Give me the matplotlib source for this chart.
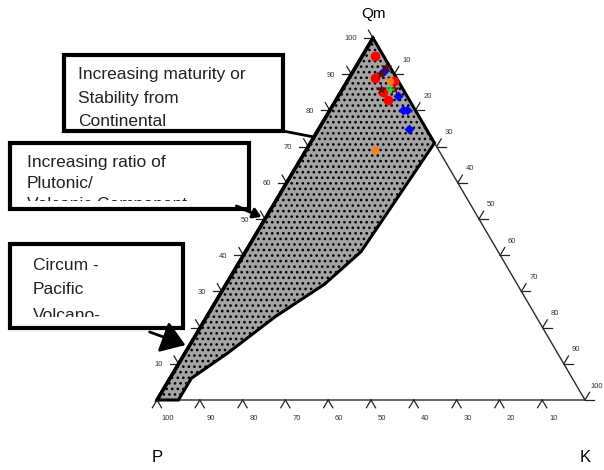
import numpy as np
import matplotlib.pyplot as plt
from matplotlib.patches import Polygon, Rectangle, FancyArrowPatch

plt.rcParams['font.family'] = ['Liberation Sans', 'DejaVu Sans']
plt.rcParams['hatch.linewidth'] = 1.1

# vertices of the diagram (pixel space)
P_XY = (157, 400)
K_XY = (585, 400)
QM_XY = (373, 38)

# point groups as (Qm, P, K) percentages
red_qm = [95, 89, 88, 85, 83]
red_p = [2, 5, 1, 5, 5]
red_k = [3, 6, 11, 10, 12]

maroon_qm = [92, 90, 86, 86]
maroon_p = [1, 3, 2, 5]
maroon_k = [7, 7, 12, 9]

blue_qm = [91, 84, 80, 80, 75]
blue_p = [2, 2, 3, 2, 4]
blue_k = [7, 14, 17, 18, 21]

green_qm = [86]
green_p = [3]
green_k = [11]

orange_qm = [88, 69]
orange_p = [2, 15]
orange_k = [10, 16]

# field outline (Qm, P, K), running from the Qm apex down the right side and back to P
field_qm = [100, 71, 41, 32, 23, 13, 6, 0, 0]
field_p = [0, 0, 32, 45, 61, 77, 89, 95, 100]
field_k = [0, 29, 27, 23, 16, 10, 5, 5, 0]

tick_vals = [10, 20, 30, 40, 50, 60, 70, 80, 90, 100]

box_lines = [
    ["Increasing maturity or", "Stability from", "Continental"],
    ["Increasing ratio of", "Plutonic/", "Volcanic Component"],
    ["Circum -", "Pacific", "Volcano-"],
]


def tern(qm, p, k):
    qm, p, k = np.asarray(qm, float), np.asarray(p, float), np.asarray(k, float)
    s = qm + p + k
    x = (P_XY[0] * p + K_XY[0] * k + QM_XY[0] * qm) / s
    y = (P_XY[1] * p + K_XY[1] * k + QM_XY[1] * qm) / s
    return x, y


def unit(dx, dy):
    n = np.hypot(dx, dy)
    return dx / n, dy / n


fig = plt.figure(figsize=(6.04, 4.70), dpi=100)
ax = fig.add_axes([0, 0, 1, 1])
ax.set_xlim(0, 604)
ax.set_ylim(470, 0)
ax.axis('off')

# shaded field
fx, fy = tern(field_qm, field_p, field_k)
field = Polygon(np.column_stack([fx, fy]), closed=True, facecolor='#a4a4a4',
                edgecolor='black', hatch='...', lw=2.2, zorder=2)
ax.add_patch(field)

# triangle outline
ax.plot([P_XY[0], QM_XY[0]], [P_XY[1], QM_XY[1]], color='black', lw=2.6, zorder=3,
        solid_capstyle='round')
ax.plot([QM_XY[0], K_XY[0], P_XY[0]], [QM_XY[1], K_XY[1], P_XY[1]],
        color='#2a2a2a', lw=1.0, zorder=1)

# tick marks and labels
L = 9
d_qp = unit(P_XY[0] - QM_XY[0], P_XY[1] - QM_XY[1])
d_qk = unit(K_XY[0] - QM_XY[0], K_XY[1] - QM_XY[1])
d_pq = (-d_qp[0], -d_qp[1])
d_kq = (-d_qk[0], -d_qk[1])
tk = dict(color='#222222', lw=0.9, zorder=1)
lab = dict(fontsize=5.5, color='#333333', zorder=4)

for v in tick_vals:
    # base: P scale
    x, y = tern(0, v, 100 - v)
    for d in (d_qp, d_qk):
        ax.plot([x, x + L * d[0]], [y, y + L * d[1]], **tk)
    ax.text(x + 11, y + 18, str(v), ha='center', va='center', **lab)
    # left side: Qm scale
    x, y = tern(v, 100 - v, 0)
    for d in ((-1, 0), d_kq):
        ax.plot([x, x + L * d[0]], [y, y + L * d[1]], **tk)
    ax.text(x - 16, y + 1, str(v), ha='right', va='center', **lab)
    # right side: K scale
    x, y = tern(100 - v, 0, v)
    for d in ((1, 0), d_pq):
        ax.plot([x, x + L * d[0]], [y, y + L * d[1]], **tk)
    ax.text(x + 12, y - 14, str(v), ha='center', va='center', **lab)

# apex labels
ax.text(QM_XY[0], 14, 'Qm', fontsize=11, ha='center', va='center')
ax.text(P_XY[0], 458, 'P', fontsize=12, ha='center', va='center')
ax.text(K_XY[0], 458, 'K', fontsize=12, ha='center', va='center')

# samples
x, y = tern(red_qm, red_p, red_k)
ax.plot(x, y, 'o', color='#ff0000', ms=7, mec='none', zorder=5)
x, y = tern(blue_qm, blue_p, blue_k)
ax.plot(x, y, 'D', color='#0000ff', ms=5, mec='none', zorder=5)
x, y = tern(maroon_qm, maroon_p, maroon_k)
ax.plot(x, y, '*', color='#5c0a0a', ms=9, mec='none', zorder=6)
x, y = tern(green_qm, green_p, green_k)
ax.plot(x, y, 'P', color='#22dd22', ms=6, mec='none', zorder=6)
x, y = tern(orange_qm, orange_p, orange_k)
ax.plot(x, y, 'o', color='#ff7f0e', ms=5.5, mec='none', zorder=7)

# annotation boxes, the last line of text runs past the frame and is cut off
boxes = [(63.5, 54.5, 219, 76.5), (10, 143, 239, 66), (10, 243.5, 172.5, 84)]
text_x = [78, 27, 33]
text_y = [[75, 98, 121], [162, 183, 204], [266, 289, 315]]
clip_bottom = [130, 201, 317]

for (bx, by, bw, bh), lines, tx, ty, cb in zip(boxes, box_lines, text_x, text_y, clip_bottom):
    ax.add_patch(Rectangle((bx, by), bw, bh, facecolor='white', edgecolor='black',
                           lw=3.0, zorder=8))
    clip = Rectangle((bx, by), bw, cb - by, transform=ax.transData, visible=False)
    ax.add_patch(clip)
    for line, yy in zip(lines, ty):
        t = ax.text(tx, yy, line, fontsize=12.5, color='#222222', ha='left',
                    va='center', zorder=9, clip_on=True)
        t.set_clip_path(clip)

# leaders from the boxes to the triangle side
ax.plot([283, 314], [131, 137], color='black', lw=2.0, zorder=8)
ax.add_patch(FancyArrowPatch((234, 205), (264, 218),
                             arrowstyle='-|>,head_length=0.4,head_width=0.25',
                             mutation_scale=12, color='black', lw=2.2, zorder=8))
ax.add_patch(FancyArrowPatch((147, 331), (188, 346),
                             arrowstyle='-|>,head_length=0.8,head_width=0.55',
                             mutation_scale=18, color='black', lw=2.0, zorder=8))

fig.savefig('out.png', dpi=100)
